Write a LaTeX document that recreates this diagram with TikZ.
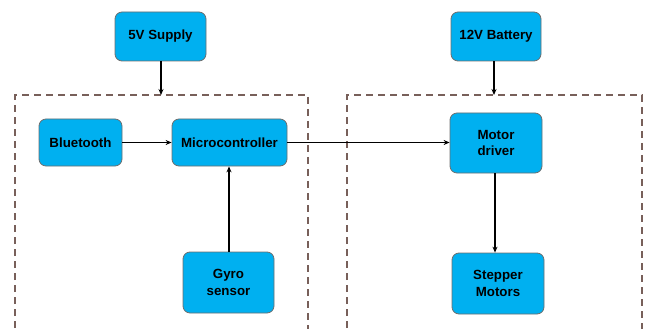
\documentclass[tikz,border=0pt]{standalone}
\usepackage{fontspec}
\setmainfont{Liberation Sans}
\usetikzlibrary{arrows.meta}
\definecolor{boxfill}{RGB}{0,176,240}
\definecolor{boxline}{RGB}{110,110,110}
\definecolor{groupline}{RGB}{120,96,90}
\begin{document}
\begin{tikzpicture}[x=1pt,y=-1pt,
  blk/.style={draw=boxline, line width=0.8pt, fill=boxfill, rounded corners=7pt,
    minimum width=#1, align=center, font=\fontsize{13.3}{16.5}\selectfont\bfseries, inner sep=0pt},
  blk/.default=91pt,
  group/.style={draw=groupline, line width=1.4pt, dash pattern=on 7pt off 5pt},
  conn/.style={draw=black, line width=1.2pt, -{Stealth[length=6pt,width=5pt]}}]
\useasboundingbox (0,0) rectangle (665,329);
\clip (0,0) rectangle (665,329);
% group boxes
\draw[group] (15,340) -- (15,95) -- (308,95) -- (308,340);
\draw[group] (347,340) -- (347,95) -- (642,95) -- (642,340);
\coordinate (g1top) at (161,95);
\coordinate (g2top) at (494,95);
% blocks
\node[blk=91pt, minimum height=49pt] (sup) at (160.5,36.5) {5V Supply};
\node[blk=90pt, minimum height=49pt] (bat) at (496,36.5) {12V Battery};
\node[blk=83pt, minimum height=47pt] (bt) at (80.5,142.5) {Bluetooth};
\node[blk=115pt, minimum height=47pt] (mc) at (229.5,142.5) {Microcontroller};
\node[blk=91pt, minimum height=61pt] (gy) at (228.5,282.5) {Gyro\\sensor};
\node[blk=92pt, minimum height=60pt] (md) at (496,143) {Motor\\driver};
\node[blk=92pt, minimum height=61pt] (sm) at (498,283.5) {Stepper\\Motors};
% connectors
\draw[conn] (sup.south -| g1top) -- (g1top);
\draw[conn] (bat.south -| g2top) -- (g2top);
\draw[conn] (bt.east |- 0,142.5) -- (mc.west |- 0,142.5);
\draw[conn] (mc.east |- 0,142.5) -- (md.west |- 0,142.5);
\draw[conn] (gy.north -| 229,0) -- (mc.south -| 229,0);
\draw[conn] (md.south -| 495,0) -- (sm.north -| 495,0);
\end{tikzpicture}
\end{document}
